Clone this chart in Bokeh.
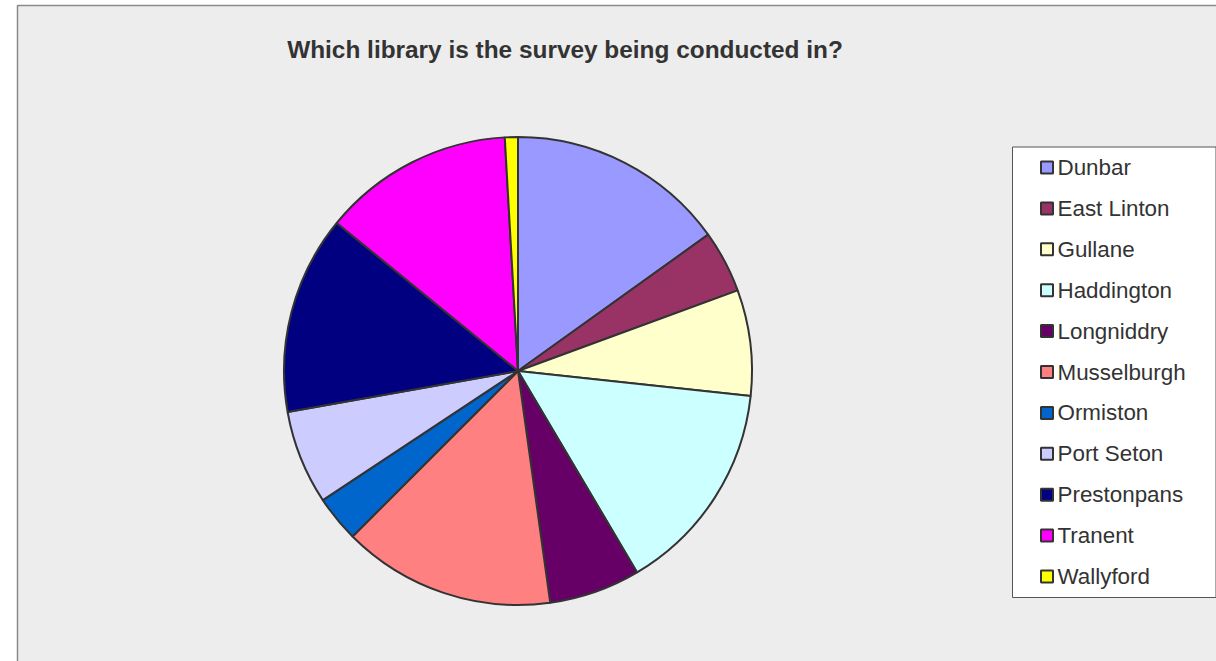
import numpy as np
from bokeh.plotting import figure
from bokeh.models import Range1d, ColumnDataSource
from bokeh.core.properties import value
from bokeh.embed import file_html
from bokeh.resources import INLINE

# Data
libraries = ["Dunbar", "East Linton", "Gullane", "Haddington", "Longniddry",
             "Musselburgh", "Ormiston", "Port Seton", "Prestonpans", "Tranent", "Wallyford"]
shares = [15.1, 4.3, 7.3, 14.8, 6.3, 14.7, 3.2, 6.5, 13.7, 13.2, 0.9]
colors = ["#9999FF", "#993366", "#FFFFCC", "#CCFFFF", "#660066", "#FF8080",
          "#0066CC", "#CCCCFF", "#000080", "#FF00FF", "#FFFF00"]
title_text = "Which library is the survey being conducted in?"

W, H = 1216, 661
def Y(ys):
    return H - ys

p = figure(width=W, height=H, x_range=Range1d(0, W), y_range=Range1d(0, H),
           output_backend="svg", toolbar_location=None, min_border=0)
p.axis.visible = False
p.grid.visible = False
p.outline_line_color = None
p.background_fill_color = "white"
p.border_fill_color = "white"

# chart area
p.quad(left=17, right=W + 5, top=Y(5), bottom=Y(H + 5), fill_color="#EDEDED",
       line_color="#8A8A8A", line_width=1.5)

# pie
vals = np.array(shares, dtype=float)
frac = vals / vals.sum()
cum = np.concatenate([[0], np.cumsum(frac)])
a_start = np.pi / 2 - cum[:-1] * 2 * np.pi
a_end = np.pi / 2 - cum[1:] * 2 * np.pi
src = ColumnDataSource(dict(start=a_end, end=a_start, color=colors, name=libraries))
cx, cy, r = 517.5, Y(370.5), 234
p.wedge(x=cx, y=cy, radius=r, start_angle="start", end_angle="end", direction="anticlock",
        fill_color="color", line_color="#333333", line_width=2, source=src)

# title
p.text(x=[564.5], y=[Y(49)], text=[title_text], text_align="center", text_baseline="middle",
       text_font=value("Liberation Sans"), text_font_size="24.4px", text_font_style="bold",
       text_color="#333333")

# legend
p.quad(left=1012, right=1215.5, top=Y(146.5), bottom=Y(597), fill_color="white",
       line_color="#555555", line_width=1)
ys = [167 + i * 40.9 for i in range(len(libraries))]
p.scatter(x=[1046.5] * len(libraries), y=[Y(v) for v in ys], marker="square", size=12,
          fill_color=colors, line_color="#333333", line_width=2)
p.text(x=[1057] * len(libraries), y=[Y(v) for v in ys], text=libraries, text_align="left",
       text_baseline="middle", text_font=value("Liberation Sans"), text_font_size="22.4px",
       text_color="#333333")

open("out.html", "w").write(file_html(p, INLINE))
